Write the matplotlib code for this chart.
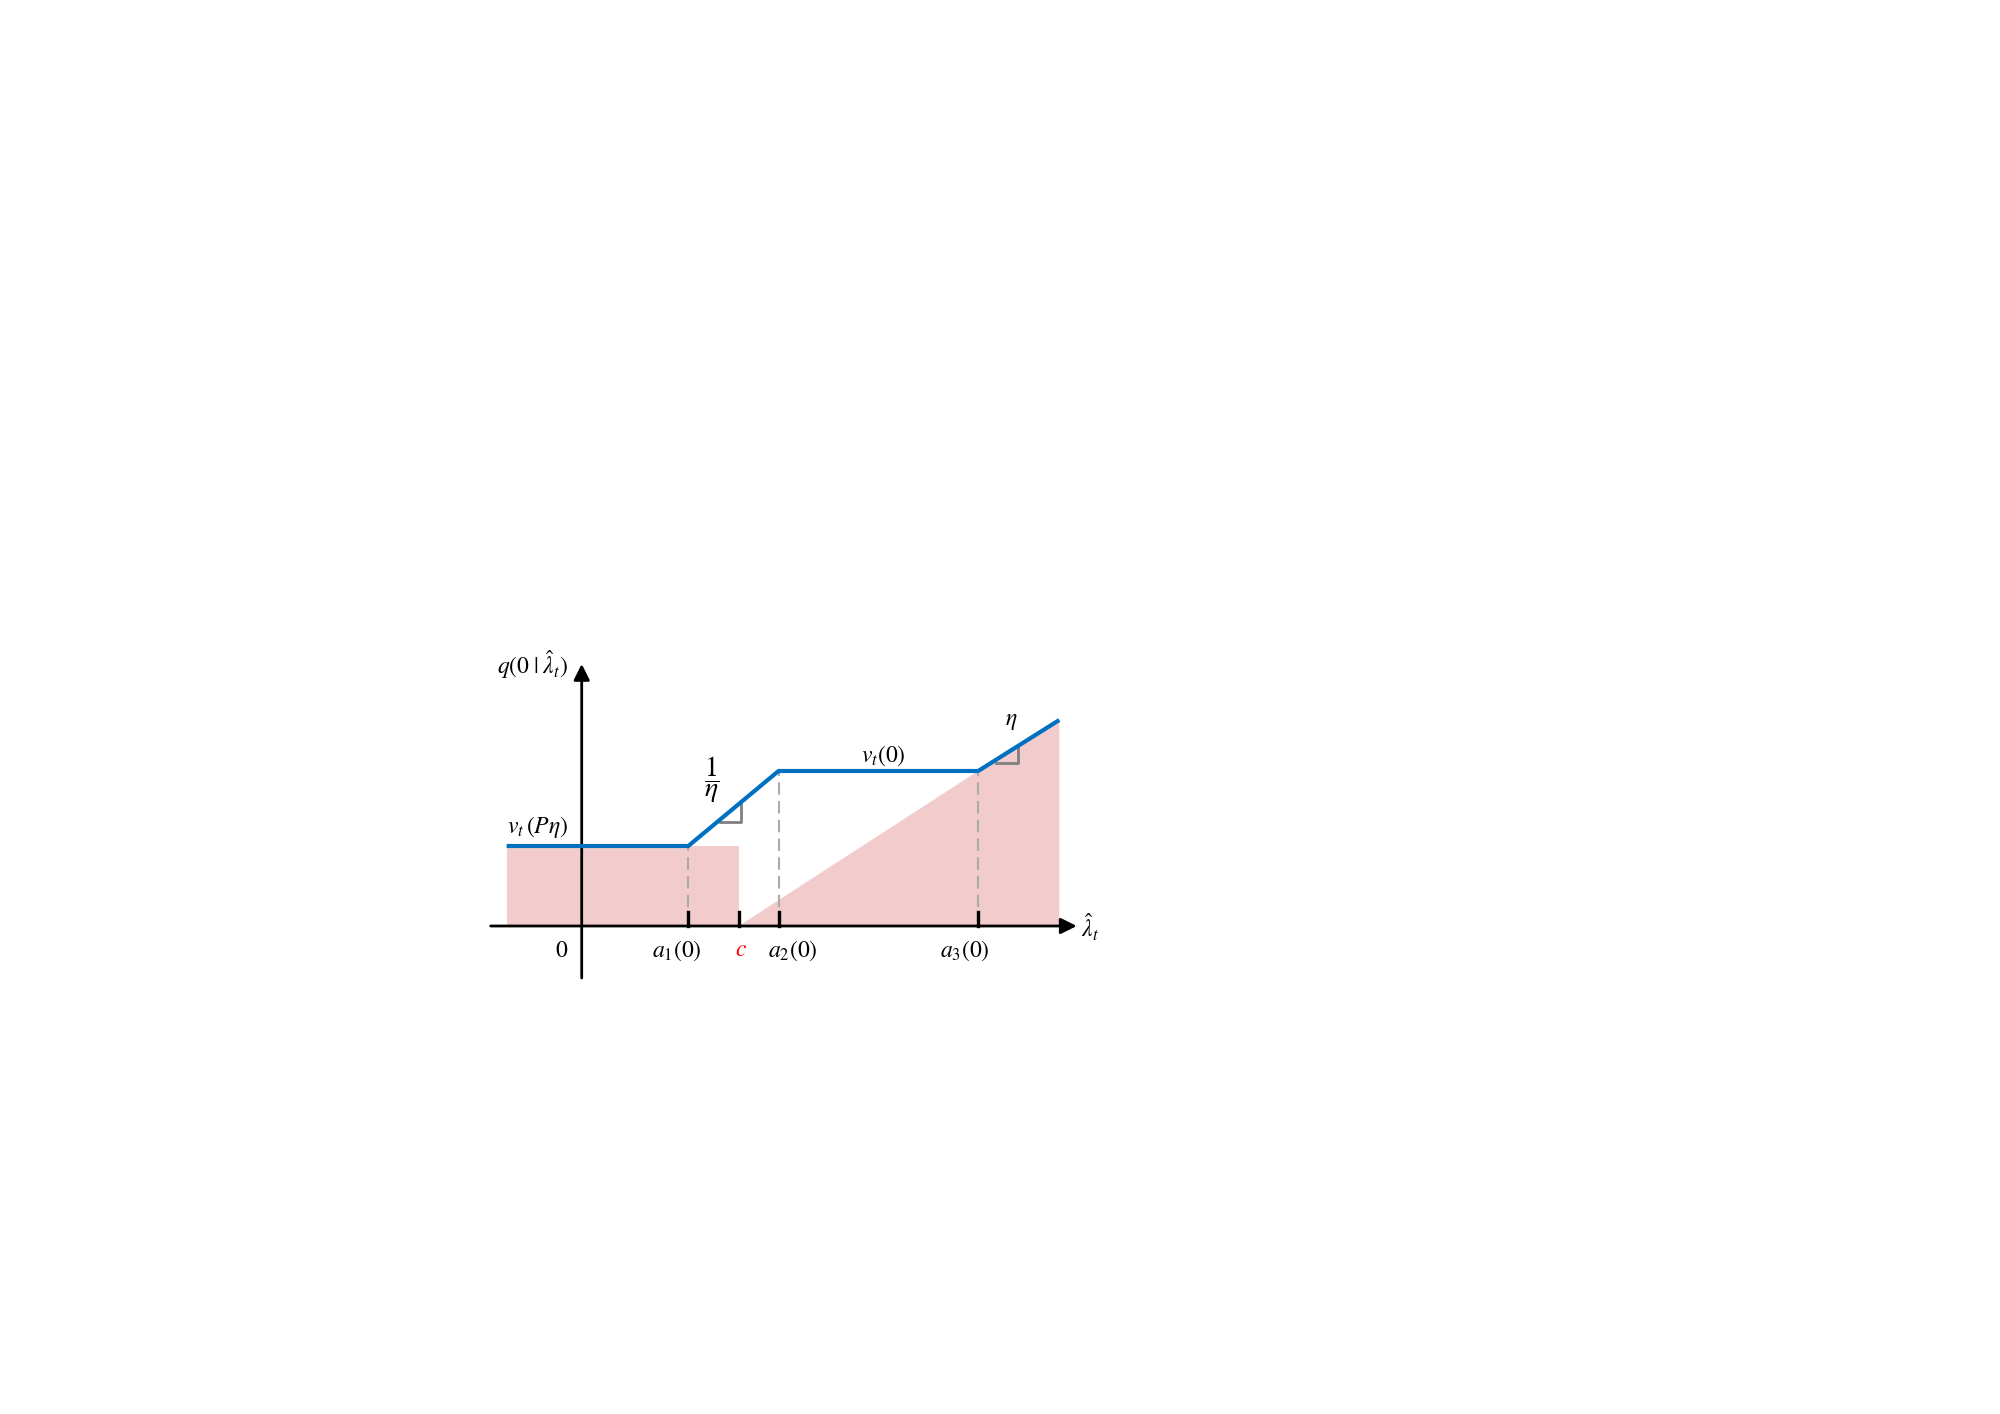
import matplotlib.pyplot as plt

plt.rcParams['mathtext.fontset'] = 'stix'
plt.rcParams['font.family'] = ['STIXGeneral', 'DejaVu Sans']

# breakpoints of the piecewise curve (1 unit = 10 px)
a1 = 10.66
c = 15.7
a2 = 19.68
a3 = 39.65
x_start = -7.5
x_end = 47.76
v_low = 8.0      # v_t(P eta)
v_high = 15.5    # v_t(0)
y_end = 20.6

curve_x = [x_start, a1, a2, a3, x_end]
curve_y = [v_low, v_low, v_high, v_high, y_end]

# shaded regions
rect_x = [x_start, c, c, x_start]
rect_y = [0, 0, v_low, v_low]
poly_x = [c, a3, x_end, x_end]
poly_y = [0, v_high, y_end, 0]

tick_pos = [a1, c, a2, a3]
dash_pos = [a1, a2, a3]
dash_top = [v_low, v_high, v_high]

blue = '#0070C0'
pink = '#F2CBCC'
grey = '#ABABAB'

fig = plt.figure(figsize=(20, 14.14), dpi=100)
ax = fig.add_axes([0, 0, 1, 1])
ax.set_xlim(-58.17, 141.83)
ax.set_ylim(-48.8, 92.6)
ax.axis('off')

ax.fill(rect_x, rect_y, color=pink, lw=0, zorder=1)
ax.fill(poly_x, poly_y, color=pink, lw=0, zorder=1)

for xp, yt in zip(dash_pos, dash_top):
    ax.plot([xp, xp], [0, yt], color=grey, lw=1.5, ls=(0, (6, 3)), zorder=2)

# axes with arrows
ax.annotate('', xy=(49.5, 0), xytext=(-9.1, 0),
            arrowprops=dict(arrowstyle='-|>', lw=2, color='black',
                            mutation_scale=24, shrinkA=0, shrinkB=0), zorder=4)
ax.annotate('', xy=(0, 26.2), xytext=(0, -5.2),
            arrowprops=dict(arrowstyle='-|>', lw=2, color='black',
                            mutation_scale=24, shrinkA=0, shrinkB=0), zorder=4)

for xp in tick_pos:
    ax.plot([xp, xp], [0, 1.4], color='black', lw=2.4, zorder=4)

# slope markers
ax.plot([13.8, 15.95, 15.95], [10.4, 10.4, 12.3], color='#808080', lw=2, zorder=3)
ax.plot([41.4, 43.65, 43.65], [16.3, 16.3, 18.0], color='#808080', lw=2, zorder=3)

ax.plot(curve_x, curve_y, color=blue, lw=3, solid_capstyle='butt', zorder=5)

fs = 17
ax.text(-1.3, 26.1, r'$q(0\;|\;\hat{\lambda}_t)$', ha='right', va='center', fontsize=fs)
ax.text(-1.97, -2.5, r'$0$', ha='center', va='center', fontsize=fs)
ax.text(9.5, -2.5, r'$a_1(0)$', ha='center', va='center', fontsize=fs)
ax.text(15.9, -2.4, r'$c$', ha='center', va='center', fontsize=fs, color='red')
ax.text(21.1, -2.5, r'$a_2(0)$', ha='center', va='center', fontsize=fs)
ax.text(38.3, -2.5, r'$a_3(0)$', ha='center', va='center', fontsize=fs)
ax.text(49.9, -0.1, r'$\hat{\lambda}_t$', ha='left', va='center', fontsize=fs)
ax.text(-4.4, 9.9, r'$v_t\,(P\eta)$', ha='center', va='center', fontsize=fs)
ax.text(13.0, 14.6, r'$\dfrac{1}{\eta}$', ha='center', va='center', fontsize=20)
ax.text(30.2, 17.0, r'$v_t(0)$', ha='center', va='center', fontsize=fs)
ax.text(43.0, 20.5, r'$\eta$', ha='center', va='center', fontsize=fs)

fig.savefig('out.png', dpi=100)
